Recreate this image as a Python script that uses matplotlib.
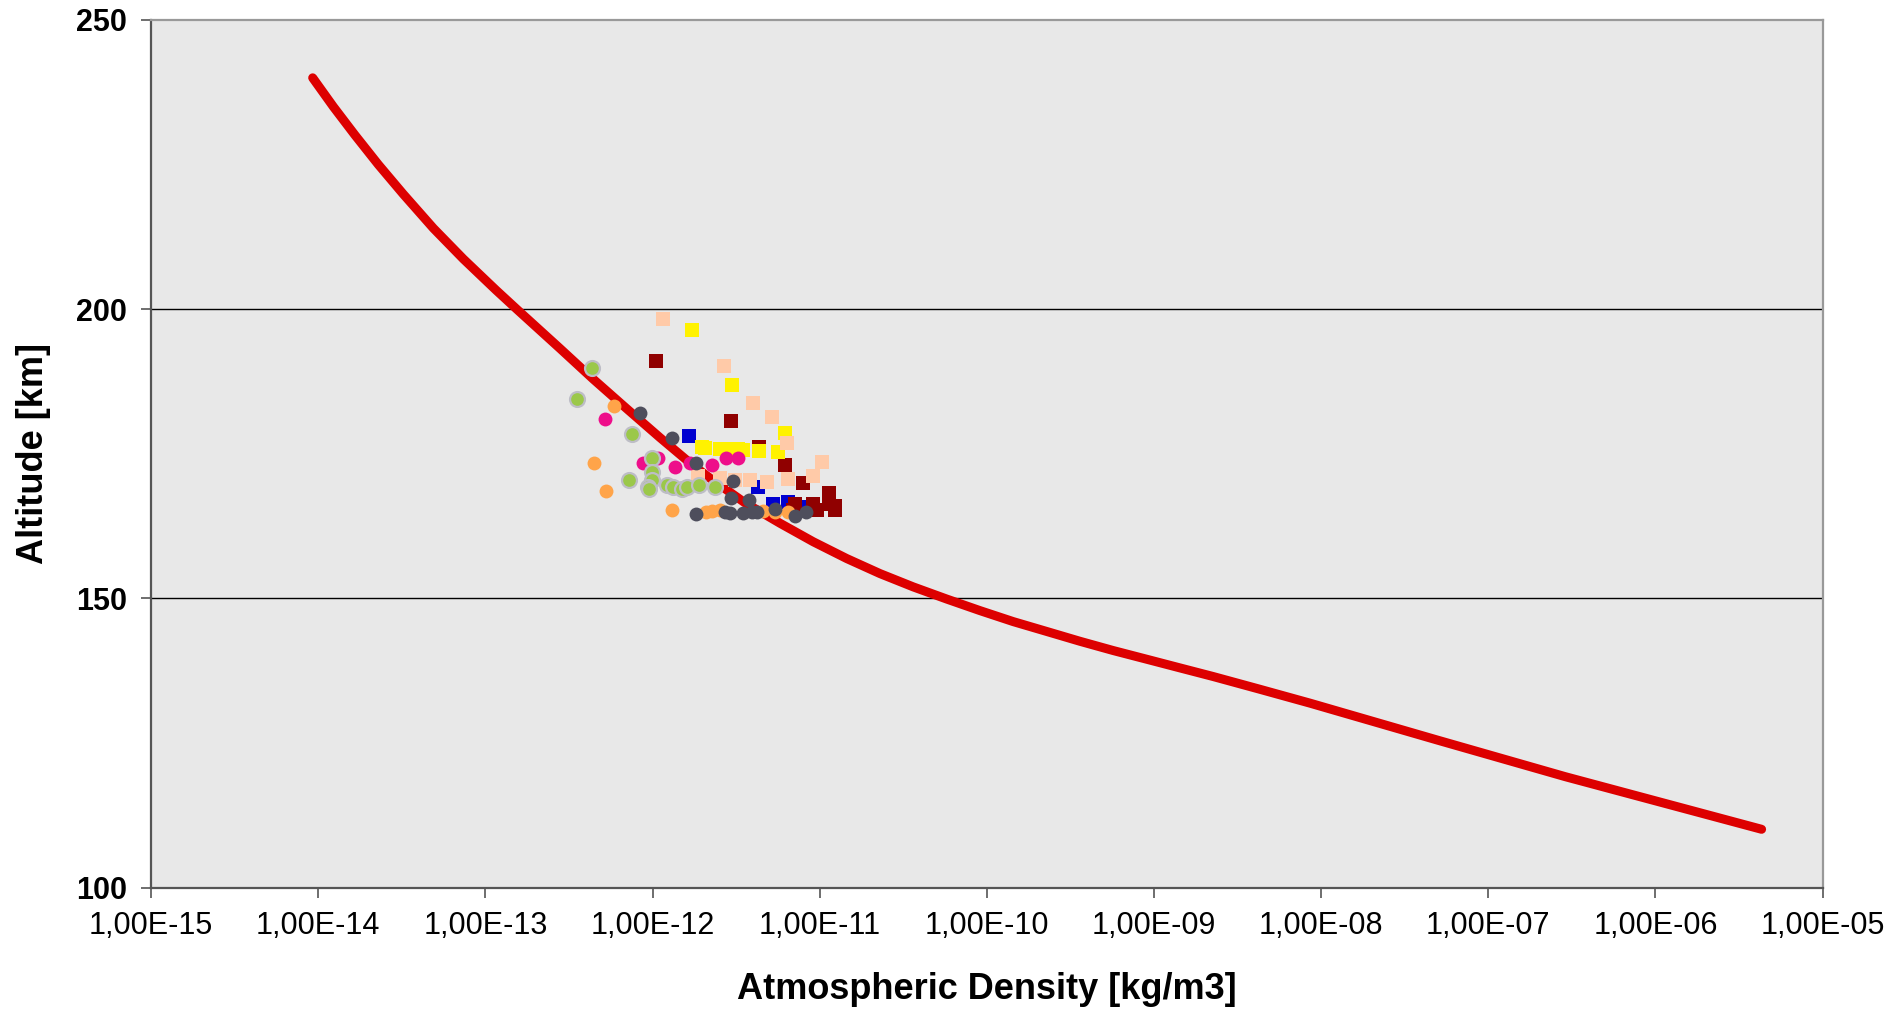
import numpy as np
import matplotlib
matplotlib.use('Agg')
import matplotlib.pyplot as plt

plt.rcParams['font.family'] = ['Liberation Sans', 'DejaVu Sans']

# model curve (density vs altitude)
curve_alt = [240.0, 235.0, 230.1, 225.0, 219.9, 214.0, 208.7, 203.3, 200.0, 193.2,
             187.9, 182.8, 177.8, 173.2, 170.8, 166.6, 163.0, 159.8, 156.9, 154.3,
             152.0, 149.9, 147.9, 146.0, 144.3, 142.6, 141.0, 139.5, 138.0, 136.5,
             134.3, 131.9, 125.5, 119.2, 110.1]
curve_dens = [9.27e-15, 1.233e-14, 1.660e-14, 2.291e-14, 3.228e-14, 4.887e-14, 7.379e-14,
              1.159e-13, 1.542e-13, 2.799e-13, 4.426e-13, 7.015e-13, 1.109e-12, 1.714e-12,
              2.208e-12, 3.548e-12, 5.794e-12, 9.162e-12, 1.452e-11, 2.296e-11, 3.631e-11,
              5.754e-11, 9.099e-11, 1.439e-10, 2.280e-10, 3.606e-10, 5.702e-10, 9.036e-10,
              1.429e-9, 2.265e-9, 4.305e-9, 8.590e-9, 4.989e-8, 2.884e-7, 4.315e-6]

# measured points, one list pair per series
blue_dens = [1.66e-12, 4.30e-12, 5.28e-12, 6.49e-12, 8.0e-12]
blue_alt = [178.1, 169.3, 166.3, 166.6, 165.8]

darkred_dens = [1.05e-12, 2.95e-12, 4.34e-12, 6.21e-12, 7.98e-12, 1.13e-11, 9.16e-12,
                1.13e-11, 1.24e-11, 9.59e-12, 6.95e-12, 1.24e-11, 7.11e-12]
darkred_alt = [191.1, 180.7, 176.2, 173.1, 169.9, 168.2, 166.4,
               166.4, 165.9, 165.3, 165.3, 165.3, 166.3]

yellow_dens = [1.73e-12, 2.98e-12, 1.97e-12, 2.06e-12, 2.54e-12, 2.91e-12, 3.26e-12,
               3.49e-12, 4.34e-12, 5.65e-12, 6.21e-12]
yellow_alt = [196.4, 186.9, 176.2, 176.0, 175.9, 175.9, 175.8,
              175.6, 175.5, 175.3, 178.6]

peach_dens = [1.15e-12, 2.68e-12, 3.97e-12, 5.16e-12, 6.35e-12, 1.03e-11, 9.16e-12,
              1.88e-12, 2.54e-12, 3.12e-12, 3.83e-12, 4.82e-12, 6.49e-12]
peach_alt = [198.3, 190.1, 183.8, 181.3, 176.8, 173.6, 171.2,
             171.1, 170.8, 170.5, 170.5, 170.2, 170.6]

orange_dens = [5.89e-13, 4.49e-13, 5.27e-13, 1.31e-12, 2.09e-12, 2.26e-12, 2.54e-12,
               4.60e-12, 5.41e-12, 6.49e-12]
orange_alt = [183.2, 173.5, 168.6, 165.3, 165.0, 165.2, 165.3, 165.2, 165.0, 165.0]

magenta_dens = [5.20e-13, 8.81e-13, 1.08e-12, 1.37e-12, 1.67e-12, 2.26e-12, 2.75e-12, 3.26e-12]
magenta_alt = [181.1, 173.5, 174.2, 172.7, 173.4, 173.1, 174.2, 174.2]

grey_dens = [8.41e-13, 1.31e-12, 1.82e-12, 3.04e-12, 2.93e-12, 3.78e-12, 1.82e-12, 2.72e-12,
             2.91e-12, 3.49e-12, 3.92e-12, 4.20e-12, 5.41e-12, 7.11e-12, 8.28e-12]
grey_alt = [182.1, 177.7, 173.5, 170.3, 167.3, 167.0, 164.6, 165.0,
            164.7, 164.7, 165.0, 165.0, 165.5, 164.3, 165.0]

green_dens = [4.37e-13, 3.55e-13, 7.52e-13, 9.89e-13, 9.89e-13, 9.89e-13, 7.23e-13, 9.35e-13,
              9.57e-13, 1.22e-12, 1.33e-12, 1.50e-12, 1.60e-12, 1.91e-12, 2.37e-12]
green_alt = [189.9, 184.4, 178.4, 174.2, 171.8, 170.5, 170.4, 169.3,
             168.9, 169.6, 169.2, 168.9, 169.2, 169.7, 169.3]

x_ticks = [1e-15, 1e-14, 1e-13, 1e-12, 1e-11, 1e-10, 1e-9, 1e-8, 1e-7, 1e-6, 1e-5]
x_labels = ['1,00E-15', '1,00E-14', '1,00E-13', '1,00E-12', '1,00E-11', '1,00E-10',
            '1,00E-09', '1,00E-08', '1,00E-07', '1,00E-06', '1,00E-05']
y_ticks = [100, 150, 200, 250]

fig = plt.figure(figsize=(18.95, 10.09), dpi=100)
ax = fig.add_axes([0.0797, 0.1202, 0.8821, 0.8600])
ax.set_facecolor('#e8e8e8')

ax.plot(curve_dens, curve_alt, color='#dd0000', lw=6.5, solid_capstyle='round',
        solid_joinstyle='round', zorder=2)

sq = dict(marker='s', s=100, linewidths=0, zorder=3)
ci = dict(marker='o', s=100, linewidths=0, zorder=3)
ax.scatter(blue_dens, blue_alt, color='#0000d0', **sq)
ax.scatter(darkred_dens, darkred_alt, color='#900000', **sq)
ax.scatter(yellow_dens, yellow_alt, color='#fff200', **sq)
ax.scatter(peach_dens, peach_alt, color='#ffcaa8', **sq)
ax.scatter(orange_dens, orange_alt, color='#ffa449', **ci)
ax.scatter(magenta_dens, magenta_alt, color='#ee0e8a', **ci)
ax.scatter(grey_dens, grey_alt, color='#4e4e5c', **ci)
ax.scatter(green_dens, green_alt, color='#9bc84a', marker='o', s=115,
           edgecolors='#bdbdc6', linewidths=1.6, zorder=3)

ax.set_xscale('log')
ax.set_xlim(1e-15, 1e-5)
ax.set_ylim(100, 250)
ax.set_xticks(x_ticks)
ax.set_xticklabels(x_labels)
ax.xaxis.set_minor_locator(matplotlib.ticker.NullLocator())
ax.set_yticks(y_ticks)

for y in [150, 200]:
    ax.axhline(y, color='black', lw=1.0, zorder=1)

ax.tick_params(axis='x', direction='out', length=7, width=1.2, color='#555555',
               labelsize=22, pad=10)
ax.tick_params(axis='y', direction='out', length=7, width=1.2, color='#555555',
               labelsize=22, pad=10.5)
for lab in ax.get_yticklabels():
    lab.set_fontweight('bold')

ax.spines['left'].set_color('#555555')
ax.spines['bottom'].set_color('#555555')
ax.spines['top'].set_color('#999999')
ax.spines['right'].set_color('#999999')
for s in ax.spines.values():
    s.set_linewidth(1.6)

ax.set_xlabel('Atmospheric Density [kg/m3]', fontsize=26, fontweight='bold', labelpad=22)
ax.set_ylabel('Altitude [km]', fontsize=26, fontweight='bold', labelpad=18)

fig.savefig('out.png', dpi=100)
